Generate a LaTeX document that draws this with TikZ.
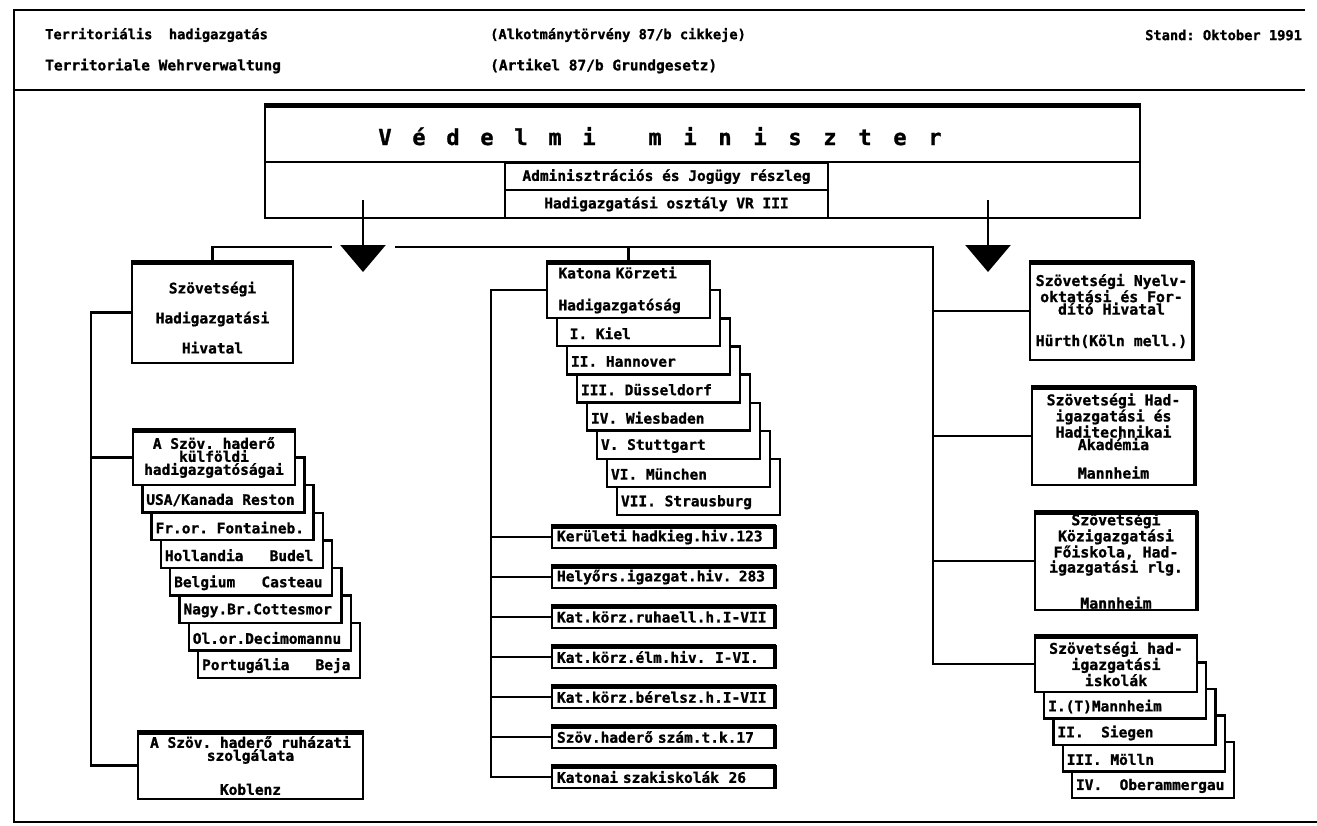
\documentclass[tikz,border=0pt]{standalone}
\usepackage{fontspec}
\setmonofont[BoldFeatures={FakeBold=1.2}]{DejaVu Sans Mono}
\usetikzlibrary{arrows.meta,calc}

\newcommand{\dotfont}[2]{\ttfamily\bfseries\fontsize{#1}{#2}\selectfont\spaceskip=0.602em\relax\xspaceskip=0.602em\relax}

\tikzset{
  sheetline/.style={line width=2.4pt},
  link/.style={line width=2.4pt},
  orgbox/.style={draw, fill=white, line width=2.4pt, inner sep=0pt, align=center, font=\dotfont{14.5}{17}},
  card/.style={draw, fill=white, line width=2.4pt, inner sep=0pt},
  cardtext/.style={anchor=west, inner sep=0pt, font=\dotfont{14.5}{17}},
  heading/.style={anchor=west, inner sep=0pt},
  titlechar/.style={anchor=base, inner sep=0pt, font=\dotfont{22}{24}},
  heavy/.style={line width=5pt},
  pointer/.style={line width=2.6pt, -{Triangle[length=27pt,width=45pt]}}
}

\begin{document}
\begin{tikzpicture}[x=1pt,y=1pt,yscale=-1,xscale=1]
\useasboundingbox (0,0) rectangle (1317,825);

%Straight Lines
\draw[sheetline] (1305,10) -- (14,10) -- (14,822) -- (1317,822) ;
%Straight Lines
\draw[sheetline] (14,90) -- (1305,90) ;

%Header texts
\node[heading, font=\dotfont{13.7}{16}] (h1) at (45,35) {Territoriális~~hadigazgatás};
\node[heading, font=\dotfont{13.7}{16}] (h2) at (490,35) {(Alkotmánytörvény 87/b cikkeje)};
\node[heading, font=\dotfont{13.7}{16}] (h3) at (1145,35) {Stand: Oktober 1991};
\node[heading, font=\dotfont{14.5}{18}] (h4) at (45,66) {Territoriale Wehrverwaltung};
\node[heading, font=\dotfont{14.5}{18}] (h5) at (490,66) {(Artikel 87/b Grundgesetz)};

%Shape: Rectangle
\node[orgbox, minimum width=875pt, minimum height=113pt] (vm) at (702.5,161.5) {};
\foreach \c [count=\i from 0] in {V,é,d,e,l,m,i}
  \node[titlechar] (va\i) at (385+34*\i,145) {\c};
\foreach \c [count=\i from 0] in {m,i,n,i,s,z,t,e,r}
  \node[titlechar] (vb\i) at (655+35*\i,145) {\c};
%Shape: Rectangle
\node[orgbox, minimum width=323pt, minimum height=27pt] (adm) at (666.5,176.5) {Adminisztrációs és Jogügy részleg};
\node[orgbox, minimum width=323pt, minimum height=28pt] (hig) at (666.5,204) {Hadigazgatási osztály VR III};
%Straight Lines
\draw[link] (vm.west |- adm.north) -- (vm.east |- adm.north) ;

%Arrows
\coordinate (aLs) at (363,200);
\coordinate (aLe) at (363,272);
\coordinate (aRs) at (988,200);
\coordinate (aRe) at (988,272);
\draw[pointer] (aLs) -- (aLe) ;
\draw[pointer] (aRs) -- (aRe) ;

%Left column
\node[orgbox, minimum width=161pt, minimum height=101pt, font=\dotfont{14.5}{30}] (svh) at (212.5,312.5) {\\[-8pt]Szövetségi\\Hadigazgatási\\Hivatal};
\foreach \i/\t in {7/{Portugália~~~Beja}, 6/{Ol.or.Decimomannu}, 5/{Nagy.Br.Cottesmor}, 4/{Belgium~~~Casteau}, 3/{Hollandia~~~Budel}, 2/{Fr.or. Fontaineb.}, 1/{USA/Kanada Reston}}{
  \node[card, minimum width=162pt, minimum height=55pt] (l\i) at ({214+9.3*\i},{457.5+27.6*\i}) {};
  \node[cardtext] (lt\i) at ($(l\i.south west)+(5,-13.8)$) {\t};
}
\node[orgbox, minimum width=162pt, minimum height=55pt, font=\dotfont{14.5}{13}] (kfh) at (214,457.5) {A Szöv. haderő\\külföldi\\hadigazgatóságai};
\node[orgbox, minimum width=225pt, minimum height=67pt, font=\dotfont{14.5}{13}] (kab) at (250.5,765.5) {A Szöv. haderő ruházati\\szolgálata\\[19pt]Koblenz};

%Middle column
\foreach \i/\t in {7/{VII. Strausburg}, 6/{VI. München}, 5/{V. Stuttgart}, 4/{IV. Wiesbaden}, 3/{III. Düsseldorf}, 2/{II. Hannover}, 1/{~I. Kiel}}{
  \node[card, minimum width=163pt, minimum height=56pt] (k\i) at ({628.5+10*\i},{290+28.15*\i}) {};
  \node[cardtext] (kt\i) at ($(k\i.south west)+(5,-14)$) {\t};
}
\node[orgbox, align=left, text width=140pt, inner xsep=11.5pt, minimum height=56pt, font=\dotfont{14.5}{32}] (kkh) at (628.5,290) {Katona Körzeti\\Hadigazgatóság};
\foreach \i/\t in {1/{Kerületi hadkieg.hiv.123}, 2/{Helyőrs.igazgat.hiv. 283}, 3/{Kat.körz.ruhaell.h.I-VII}, 4/{Kat.körz.élm.hiv.~~I-VI.}, 5/{Kat.körz.bérelsz.h.I-VII}, 6/{Szöv.haderő szám.t.k.17}, 7/{Katonai szakiskolák~~26}}
  \node[orgbox, align=left, text width=213pt, inner xsep=5pt, minimum height=22pt] (m\i) at (663.5,{497+40*\i}) {\t};

%Right column
\node[orgbox, minimum width=163pt, minimum height=98pt, font=\dotfont{14.8}{12.5}] (r1) at (1111.5,311) {Szövetségi Nyelv-\\oktatási és For-\\dító Hivatal\\[19pt]Hürth(Köln mell.)};
\node[orgbox, minimum width=163pt, minimum height=98pt, font=\dotfont{14.8}{12.5}] (r2) at (1113.5,436) {Szövetségi Had-\\igazgatási és\\Haditechnikai\\Akadémia\\[16pt]Mannheim};
\node[orgbox, minimum width=162pt, minimum height=98pt, font=\dotfont{14.8}{12.5}] (r3) at (1116,561) {Szövetségi\\Közigazgatási\\Főiskola, Had-\\igazgatási rlg.\\[20pt]Mannheim};
\foreach \i/\t in {4/{IV.~~Oberammergau}, 3/{III. Mölln}, 2/{II.~~Siegen}, 1/{I.(T)Mannheim}}{
  \node[card, minimum width=162pt, minimum height=56pt] (ri\i) at ({1116+9.25*\i},{664+26.5*\i}) {};
  \node[cardtext] (rt\i) at ($(ri\i.south west)+(5,-13.25)$) {\t};
}
\node[orgbox, minimum width=162pt, minimum height=56pt, font=\dotfont{14.8}{13}] (r4) at (1116,664) {Szövetségi had-\\igazgatási\\iskolák};

%Straight Lines
\coordinate (busL) at (332,247);
\coordinate (busR) at (395,247);
\coordinate (busE) at (933,247);
\draw[link] (svh.north) |- (busL) ;
\draw[link] (busR) -- (busE) |- (r4.west) ;
\foreach \n in {r1,r2,r3}
  \draw[link] (busE |- \n.west) -- (\n.west) ;
\draw[link] (kkh.north) -- (kkh.north |- busE) ;
\draw[link] (svh.west) -- ++(-40,0) coordinate (lbus) |- (kab.west) ;
\draw[link] (lbus |- kfh.west) -- (kfh.west) ;
\draw[link] (kkh.west) -- ++(-55,0) coordinate (mbus) |- (m7.west) ;
\foreach \i in {1,...,6}
  \draw[link] (mbus |- m\i.west) -- (m\i.west) ;

%Heavy top edges
\foreach \n in {vm,svh,kfh,kab,kkh,r1,r2,r3,r4,m1,m2,m3,m4,m5,m6,m7}
  \draw[heavy] ($(\n.north west)+(0,1.5)$) -- ($(\n.north east)+(0,1.5)$) ;
\foreach \n in {r1,r2,r3,m1,m2,m3,m4,m5,m6,m7}
  \draw[heavy, line width=3.5pt] ($(\n.north east)+(-1,0)$) -- ($(\n.south east)+(-1,0)$) ;

\end{tikzpicture}
\end{document}
